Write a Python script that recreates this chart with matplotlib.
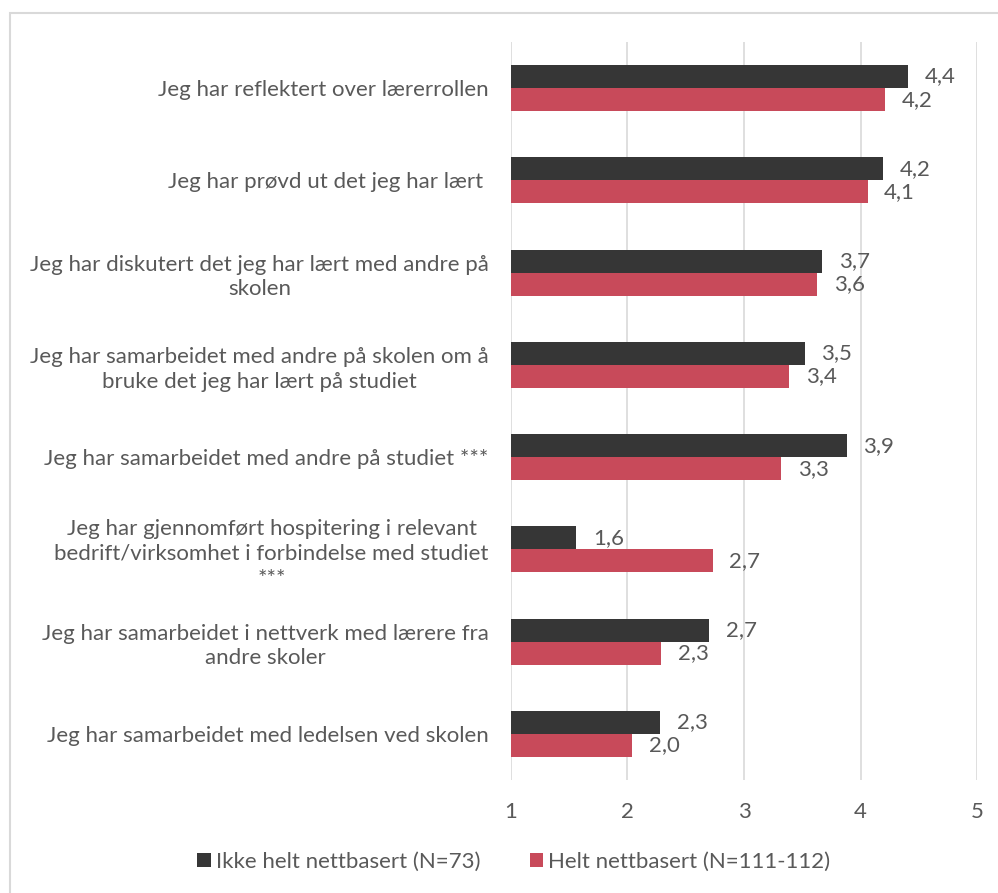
import numpy as np
import matplotlib.pyplot as plt
from matplotlib.patches import Rectangle

plt.rcParams['font.family'] = ['Lato', 'DejaVu Sans']

# survey items, top to bottom
items = [
    "Jeg har reflektert over lærerrollen",
    "Jeg har prøvd ut det jeg har lært ",
    "Jeg har diskutert det jeg har lært med andre på\nskolen",
    "Jeg har samarbeidet med andre på skolen om å\nbruke det jeg har lært på studiet",
    "Jeg har samarbeidet med andre på studiet ***",
    "Jeg har gjennomført hospitering i relevant\nbedrift/virksomhet i forbindelse med studiet\n***",
    "Jeg har samarbeidet i nettverk med lærere fra\nandre skoler",
    "Jeg har samarbeidet med ledelsen ved skolen",
]
ikke_helt = [4.41, 4.19, 3.67, 3.52, 3.88, 1.56, 2.70, 2.28]
helt = [4.21, 4.06, 3.63, 3.39, 3.32, 2.73, 2.29, 2.04]
series_names = ["Ikke helt nettbasert (N=73)", "Helt nettbasert (N=111-112)"]
colors = ["#363636", "#c84a5a"]
text_col = "#595959"
fs = 16

fig = plt.figure(figsize=(9.98, 8.93), dpi=100)
ax = fig.add_axes([0.512, 0.1265, 0.467, 0.8265])

y = np.arange(len(items))
h = 0.25
base = 1
for vals, off, col, name in [(ikke_helt, -h / 2, colors[0], series_names[0]),
                             (helt, h / 2, colors[1], series_names[1])]:
    widths = [v - base for v in vals]
    ax.barh(y + off, widths, height=h, left=base, color=col, label=name, zorder=3)
    for yi, v in zip(y + off, vals):
        ax.annotate(f"{v:.1f}".replace(".", ","), (v, yi), xytext=(12, 0),
                    textcoords="offset points", va="center", ha="left",
                    fontsize=fs, color=text_col)

ax.set_xlim(1, 5)
ax.set_ylim(len(items) - 0.5, -0.5)
ax.set_xticks([1, 2, 3, 4, 5])
ax.set_yticks(y)
ax.set_yticklabels(items, ha="right", fontsize=fs, color=text_col,
                   linespacing=1.3, multialignment="center")
ax.tick_params(axis="x", colors=text_col, labelsize=fs, length=0, pad=16)
ax.tick_params(axis="y", length=0, pad=16)
ax.grid(axis="x", color="#d9d9d9", linewidth=1.2, zorder=0)
for s in ax.spines.values():
    s.set_visible(False)

leg = fig.legend(loc="center", bbox_to_anchor=(0.515, 0.035), ncol=2, frameon=False,
                 fontsize=fs, handlelength=0.6, handleheight=0.6, handletextpad=0.25,
                 columnspacing=2.2)
for t in leg.get_texts():
    t.set_color(text_col)

# light frame around the chart area
fig.patches.append(Rectangle((10 / 998, -0.05), 1.0, 1 - 13 / 893 + 0.05,
                             transform=fig.transFigure, fill=False,
                             edgecolor="#d9d9d9", linewidth=1.5))

fig.savefig("out.png", dpi=100, facecolor="white")
